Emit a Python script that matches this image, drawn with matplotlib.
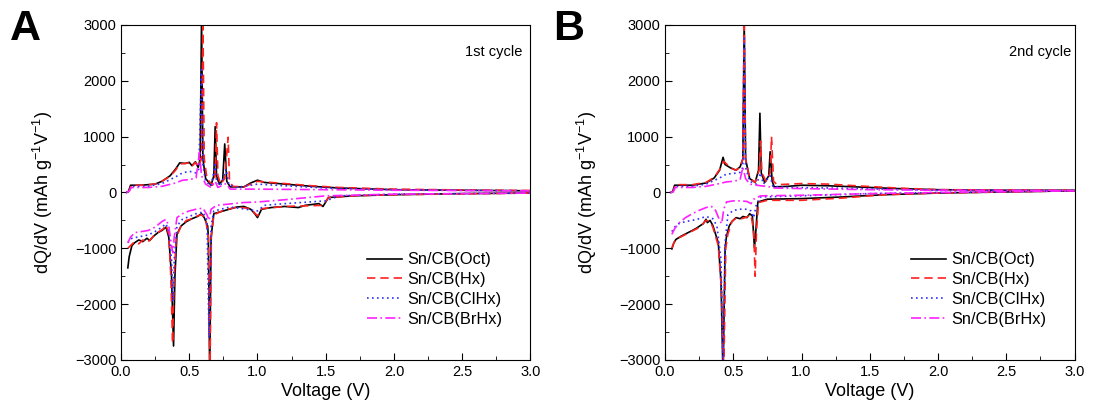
import matplotlib
matplotlib.use("Agg")
import matplotlib.pyplot as plt
from matplotlib.ticker import MultipleLocator

plt.rcParams['font.family'] = ['Liberation Sans', 'DejaVu Sans']

# data: (voltage V, dQ/dV mAh g-1 V-1)
# ---- panel A, 1st cycle ----
a_oct_chg = [(0.04, 0), (0.055, 20), (0.07, 130), (0.15, 130), (0.25, 150), (0.3, 200), (0.36, 300),
             (0.4, 420), (0.43, 530), (0.47, 520), (0.5, 540), (0.52, 480), (0.545, 550), (0.565, 450),
             (0.58, 600), (0.59, 3100), (0.6, 600), (0.62, 250), (0.66, 130), (0.68, 300), (0.69, 1180),
             (0.7, 300), (0.72, 150), (0.745, 220), (0.76, 870), (0.775, 200), (0.8, 100), (0.9, 100),
             (0.95, 170), (1.0, 220), (1.05, 180), (1.2, 150), (1.4, 110), (1.6, 80), (2.0, 50),
             (2.5, 40), (3.0, 30)]
a_hx_chg = [(0.04, 0), (0.06, 30), (0.075, 130), (0.15, 130), (0.25, 150), (0.3, 200), (0.36, 290),
            (0.4, 400), (0.43, 510), (0.47, 520), (0.5, 530), (0.52, 470), (0.545, 540), (0.565, 460),
            (0.59, 600), (0.6, 3100), (0.61, 600), (0.63, 250), (0.67, 130), (0.69, 300), (0.7, 1250),
            (0.71, 300), (0.73, 150), (0.76, 250), (0.785, 990), (0.795, 200), (0.82, 110), (0.9, 100),
            (1.0, 200), (1.05, 190), (1.2, 160), (1.4, 120), (1.6, 90), (2.0, 60), (2.5, 45), (3.0, 35)]
a_clhx_chg = [(0.04, 0), (0.06, 20), (0.075, 110), (0.2, 110), (0.3, 160), (0.4, 280), (0.45, 350),
              (0.5, 380), (0.55, 350), (0.57, 420), (0.59, 2200), (0.6, 500), (0.62, 200), (0.66, 120),
              (0.69, 500), (0.7, 200), (0.73, 120), (0.77, 420), (0.79, 140), (0.85, 90), (1.0, 150),
              (1.2, 120), (1.5, 80), (2.0, 50), (3.0, 30)]
a_brhx_chg = [(0.04, 0), (0.06, 20), (0.075, 90), (0.2, 90), (0.3, 110), (0.4, 170), (0.45, 220),
              (0.5, 230), (0.55, 260), (0.575, 720), (0.59, 300), (0.62, 150), (0.66, 90), (0.69, 200),
              (0.71, 90), (0.77, 160), (0.8, 60), (1.0, 60), (1.5, 50), (2.0, 40), (3.0, 30)]

a_oct_dis = [(0.05, -1350), (0.06, -1150), (0.08, -950), (0.1, -900), (0.13, -850), (0.16, -880),
             (0.19, -820), (0.21, -860), (0.24, -780), (0.27, -720), (0.3, -680), (0.33, -620),
             (0.35, -800), (0.37, -1500), (0.385, -2750), (0.395, -1500), (0.41, -750), (0.44, -600),
             (0.48, -520), (0.52, -470), (0.56, -430), (0.59, -380), (0.61, -450), (0.635, -600),
             (0.64, -800), (0.65, -3300), (0.66, -800), (0.68, -380), (0.75, -330), (0.85, -260),
             (0.9, -250), (0.95, -300), (0.98, -380), (1.0, -450), (1.03, -300), (1.1, -270),
             (1.2, -250), (1.3, -270), (1.35, -230), (1.45, -200), (1.48, -250), (1.52, -90),
             (1.7, -60), (2.0, -40), (2.5, -20), (3.0, -10)]
a_hx_dis = [(0.05, -1000), (0.07, -950), (0.1, -880), (0.13, -920), (0.16, -850), (0.19, -900),
            (0.22, -830), (0.25, -750), (0.28, -700), (0.31, -650), (0.33, -580), (0.35, -750),
            (0.365, -1500), (0.378, -2700), (0.39, -1500), (0.405, -800), (0.44, -600), (0.48, -500),
            (0.52, -470), (0.56, -420), (0.59, -400), (0.62, -480), (0.64, -800), (0.652, -3300),
            (0.662, -800), (0.68, -400), (0.75, -320), (0.85, -260), (0.95, -290), (1.0, -420),
            (1.03, -290), (1.2, -250), (1.35, -240), (1.48, -230), (1.52, -90), (1.7, -60),
            (2.0, -40), (3.0, -10)]
a_clhx_dis = [(0.05, -900), (0.08, -820), (0.12, -800), (0.16, -780), (0.2, -760), (0.25, -700),
              (0.3, -620), (0.33, -560), (0.35, -700), (0.37, -1200), (0.38, -1950), (0.39, -1200),
              (0.41, -600), (0.45, -480), (0.5, -430), (0.55, -380), (0.6, -350), (0.63, -500),
              (0.645, -2600), (0.66, -600), (0.68, -330), (0.8, -260), (1.0, -330), (1.05, -230),
              (1.2, -200), (1.5, -150), (1.6, -60), (2.0, -30), (3.0, -10)]
a_brhx_dis = [(0.05, -900), (0.07, -800), (0.1, -720), (0.15, -700), (0.2, -680), (0.25, -620),
              (0.3, -520), (0.33, -480), (0.35, -600), (0.37, -950), (0.38, -1080), (0.39, -800),
              (0.41, -450), (0.45, -380), (0.5, -330), (0.55, -300), (0.6, -280), (0.63, -400),
              (0.645, -500), (0.66, -300), (0.7, -230), (0.9, -180), (1.0, -170), (1.2, -130),
              (1.5, -60), (2.0, -30), (3.0, -10)]

# ---- panel B, 2nd cycle ----
b_oct_chg = [(0.04, 0), (0.055, 10), (0.07, 130), (0.2, 130), (0.3, 170), (0.36, 260), (0.4, 400),
             (0.425, 630), (0.44, 500), (0.46, 470), (0.48, 440), (0.52, 400), (0.55, 460), (0.57, 600),
             (0.58, 3100), (0.59, 600), (0.62, 250), (0.66, 180), (0.685, 400), (0.695, 1420),
             (0.705, 350), (0.73, 180), (0.76, 300), (0.77, 730), (0.785, 200), (0.8, 100), (0.9, 110),
             (1.0, 130), (1.2, 120), (1.4, 100), (1.7, 70), (2.0, 50), (2.5, 40), (3.0, 40)]
b_hx_chg = [(0.04, 0), (0.06, 20), (0.075, 140), (0.2, 140), (0.3, 180), (0.36, 270), (0.41, 450),
            (0.43, 560), (0.45, 510), (0.48, 440), (0.52, 400), (0.55, 450), (0.57, 600), (0.58, 3100),
            (0.59, 600), (0.62, 250), (0.66, 180), (0.69, 400), (0.7, 920), (0.71, 350), (0.74, 200),
            (0.77, 350), (0.78, 1000), (0.795, 200), (0.82, 140), (1.0, 160), (1.2, 150), (1.4, 120),
            (1.7, 80), (2.0, 50), (3.0, 40)]
b_clhx_chg = [(0.04, 0), (0.06, 10), (0.075, 110), (0.2, 110), (0.3, 150), (0.4, 260), (0.45, 330),
              (0.5, 340), (0.55, 360), (0.57, 450), (0.58, 2800), (0.59, 450), (0.62, 200), (0.67, 150),
              (0.7, 350), (0.72, 150), (0.77, 300), (0.79, 110), (0.9, 90), (1.2, 80), (1.6, 60),
              (2.0, 40), (3.0, 35)]
b_brhx_chg = [(0.04, 0), (0.06, 10), (0.075, 90), (0.2, 90), (0.3, 110), (0.4, 160), (0.45, 190),
              (0.5, 200), (0.55, 230), (0.57, 450), (0.59, 250), (0.62, 150), (0.7, 120), (0.75, 110),
              (0.8, 80), (1.0, 70), (1.5, 50), (2.0, 40), (3.0, 35)]

b_oct_dis = [(0.05, -1010), (0.065, -900), (0.08, -840), (0.12, -780), (0.16, -730), (0.2, -680),
             (0.23, -640), (0.26, -590), (0.28, -560), (0.3, -480), (0.31, -540), (0.33, -500),
             (0.35, -590), (0.39, -900), (0.41, -1600), (0.425, -3300), (0.44, -1000), (0.45, -790),
             (0.47, -600), (0.49, -520), (0.52, -450), (0.55, -470), (0.57, -430), (0.6, -450),
             (0.62, -380), (0.64, -420), (0.655, -990), (0.665, -700), (0.68, -170), (0.75, -120),
             (1.0, -110), (1.3, -80), (1.6, -40), (2.0, -10), (2.5, 10), (3.0, 30)]
b_hx_dis = [(0.05, -1000), (0.065, -900), (0.08, -840), (0.12, -790), (0.16, -740), (0.2, -690),
            (0.24, -640), (0.27, -580), (0.3, -500), (0.33, -520), (0.35, -620), (0.39, -950),
            (0.415, -1800), (0.43, -3300), (0.445, -1000), (0.46, -750), (0.49, -520), (0.52, -460),
            (0.56, -470), (0.6, -440), (0.63, -400), (0.65, -700), (0.66, -1500), (0.67, -700),
            (0.685, -180), (0.75, -140), (1.0, -140), (1.3, -100), (1.6, -40), (2.0, -10), (3.0, 30)]
b_clhx_dis = [(0.05, -700), (0.07, -620), (0.1, -560), (0.15, -520), (0.2, -500), (0.25, -470),
              (0.3, -430), (0.35, -470), (0.38, -600), (0.41, -1200), (0.425, -3200), (0.44, -900),
              (0.46, -400), (0.5, -320), (0.55, -300), (0.6, -300), (0.63, -330), (0.65, -450),
              (0.67, -200), (0.7, -80), (1.0, -60), (1.5, -20), (2.0, 0), (3.0, 30)]
b_brhx_dis = [(0.05, -750), (0.07, -650), (0.1, -550), (0.15, -450), (0.2, -380), (0.25, -320),
              (0.3, -270), (0.34, -250), (0.37, -320), (0.4, -500), (0.415, -560), (0.43, -300),
              (0.45, -170), (0.5, -150), (0.55, -150), (0.6, -160), (0.63, -200), (0.65, -120),
              (0.7, -60), (1.0, -50), (1.5, -20), (2.0, 0), (3.0, 30)]

labels = ['Sn/CB(Oct)', 'Sn/CB(Hx)', 'Sn/CB(ClHx)', 'Sn/CB(BrHx)']
colors = ['black', '#ff2020', '#3030ff', '#ff20ff']
styles = ['-', (0, (5, 3)), (0, (1, 2)), (0, (6, 2, 1, 2))]

panels = [
    ('A', '1st cycle', [a_oct_chg, a_hx_chg, a_clhx_chg, a_brhx_chg],
     [a_oct_dis, a_hx_dis, a_clhx_dis, a_brhx_dis]),
    ('B', '2nd cycle', [b_oct_chg, b_hx_chg, b_clhx_chg, b_brhx_chg],
     [b_oct_dis, b_hx_dis, b_clhx_dis, b_brhx_dis]),
]
lefts = [0.1106, 0.6079]
letter_x = [0.009, 0.5055]

fig = plt.figure(figsize=(10.94, 4.2), dpi=100)
for (letter, note, chg, dis), left, lx in zip(panels, lefts, letter_x):
    ax = fig.add_axes([left, 0.1429, 0.3743, 0.7976])
    for i in range(4):
        for curve in (chg[i], dis[i]):
            v = [p[0] for p in curve]
            q = [p[1] for p in curve]
            ax.plot(v, q, color=colors[i], linestyle=styles[i], lw=1.2,
                    label=labels[i] if curve is chg[i] else None)
    ax.set_xlim(0, 3.0)
    ax.set_ylim(-3000, 3000)
    ax.xaxis.set_major_locator(MultipleLocator(0.5))
    ax.xaxis.set_minor_locator(MultipleLocator(0.25))
    ax.yaxis.set_major_locator(MultipleLocator(1000))
    ax.yaxis.set_minor_locator(MultipleLocator(500))
    ax.tick_params(which='both', direction='in', labelsize=10.5, top=False, right=False)
    ax.tick_params(which='major', length=5)
    ax.tick_params(which='minor', length=3)
    ax.set_xlabel('Voltage (V)', fontsize=13, labelpad=3)
    ax.set_ylabel('dQ/dV (mAh g$^{\\mathregular{-1}}$V$^{\\mathregular{-1}}$)', fontsize=13,
                  labelpad=14)
    ax.text(2.52, 2450, note, fontsize=10.5)
    ax.legend(loc='center left', bbox_to_anchor=(0.565, 0.21), frameon=False, fontsize=11.8,
              handlelength=2.1, labelspacing=0.3, handletextpad=0.35)
    fig.text(lx, 0.905, letter, fontsize=31, fontweight='bold', va='baseline')

fig.savefig('out.png', dpi=100)
